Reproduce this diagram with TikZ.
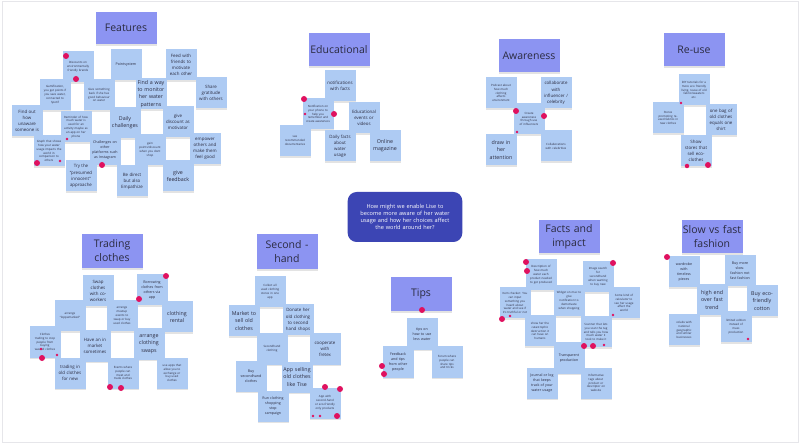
\documentclass[tikz,border=0pt]{standalone}
\usepackage{fontspec}
\setmainfont{Open Sans}
\usetikzlibrary{shadows}
\definecolor{notec}{HTML}{AECBF3}
\definecolor{titlec}{HTML}{8C94F2}
\definecolor{dotc}{HTML}{E0115F}
\definecolor{qc}{HTML}{3C45B4}
\definecolor{textc}{HTML}{2B2B40}
\definecolor{framec}{HTML}{E6E6EA}
\tikzset{
  stk/.style={fill=notec, minimum width=31pt, minimum height=31pt, inner sep=0.5pt,
    text width=29.5pt, align=center, text=textc,
    drop shadow={shadow xshift=0pt, shadow yshift=-1.4pt, opacity=0.22}},
  nb/.style={stk, font=\fontsize{5.3}{7.2}\selectfont},
  nm/.style={stk, font=\fontsize{4.4}{6.1}\selectfont},
  nms/.style={stk, font=\fontsize{3.6}{5.0}\selectfont},
  ns/.style={stk, font=\fontsize{2.9}{3.9}\selectfont},
  ttl/.style={fill=titlec, minimum width=61pt, minimum height=32pt, inner sep=1pt,
    text width=59pt, align=center, text=textc, font=\fontsize{10.5}{14}\selectfont,
    drop shadow={shadow xshift=0pt, shadow yshift=-1.6pt, opacity=0.22}},
  qbox/.style={fill=qc, rounded corners=9pt, minimum width=112pt, minimum height=50pt,
    text width=108pt, align=center, text=white, font=\fontsize{5.6}{7.2}\selectfont},
  rdot/.style={circle, fill=dotc, inner sep=0pt, minimum size=6pt},
  sdot/.style={circle, fill=dotc, inner sep=0pt, minimum size=2.8pt},
}
\begin{document}
\begin{tikzpicture}[x=1pt,y=-1pt]
\useasboundingbox (0,0) rectangle (800,443);
\fill[white] (0,0) rectangle (800,443);
\draw[framec, line width=0.8pt] (2.5,1) rectangle (798.5,442);

% ---------------- Features
\node[ttl] (f0) at (126,28) {Features};
\node[ns] (f1) at (78,67) {Discounts on\\ environmentally\\ friendly brands};
\node[nms] (f2) at (126,65) {Pointsystem};
\node[nm] (f3) at (181,65) {Feed with\\ friends to\\ motivate\\ each other};
\node[ns] (f4) at (55,95) {Gamification,\\ you get points if\\ you save water,\\ connected to\\ Spotif};
\node[ns] (f5) at (99,95) {Give something\\ back if she has\\ good behaviour\\ on water};
\node[nb] (f6) at (151,94) {Find a way\\ to monitor\\ her water\\ patterns};
\node[nm] (f7) at (211,93) {Share\\ gratitude\\ with others};
\node[nm] (f8) at (27,121) {Find out\\ how\\ unaware\\ someone is};
\node[ns] (f9) at (76,127) {Reminder of how\\ much water is\\ used for an\\ activity maybe as\\ an app on her\\ phone};
\node[nb] (f10) at (125,123) {Daily\\ challenges};
\node[nm] (f11) at (178,122) {give\\ discount as\\ motivator};
\node[ns] (f12) at (49,151) {Graph that shows\\ how your water\\ usage impacts the\\ world in\\ comparison to\\ others};
\node[nms] (f13) at (105,150) {Challenges on\\ other\\ platforms such\\ as Instagram};
\node[ns] (f14) at (150,150) {gain\\ points/discount\\ when you dont\\ shop};
\node[nm] (f15) at (205,149) {empower\\ others and\\ make them\\ feel good};
\node[nm] (f16) at (81,176) {Try the\\ “presumed\\ innocent”\\ approache};
\node[nm] (f17) at (132,181) {Be direct\\ but also\\ Empathize};
\node[nb] (f18) at (178,176) {give\\ feedback};

% ---------------- Educational
\node[ttl, minimum height=33pt] (e0) at (339,50) {Educational};
\node[nm] (e1) at (340,86) {notifications\\ with facts};
\node[ns] (e2) at (318,114) {Notification on\\ your phone to\\ help you\\ remember and\\ create awareness};
\node[nm] (e3) at (364,118) {Educational\\ events or\\ videos};
\node[ns] (e4) at (295,141) {see\\ recommended\\ documentaries};
\node[nm] (e5) at (340,146) {Daily facts\\ about\\ water\\ usage};
\node[nb] (e6) at (385,146) {Online\\ magazine};

% ---------------- Awareness
\node[ttl, minimum height=33pt] (a0) at (529,56) {Awareness};
\node[ns] (a1) at (501,93) {Podcast about\\ how much\\ clothing\\ affects\\ environment};
\node[nm] (a2) at (556,93) {collaborate\\ with\\ influencer /\\ celebrity};
\node[ns] (a3) at (529,119) {Create\\ awareness\\ through use\\ of influencers};
\node[nb] (a4) at (501,150) {draw in\\ her\\ attention};
\node[ns] (a5) at (556,146) {Collaborations\\ with celebrities};

% ---------------- Re-use
\node[ttl, minimum height=33pt] (r0) at (694,50) {Re-use};
\node[ns] (r1) at (694,90) {DIY tutorials for a\\ more eco friendly\\ living, reuse of old\\ fabric/sweaters\\ etc.};
\node[ns] (r2) at (668,118) {Stores\\ promoting re-\\ used fabrics in\\ new clothes};
\node[nm] (r3) at (721,120) {one bag of\\ old clothes\\ equals one\\ shirt};
\node[nm] (r4) at (696,151) {Show\\ stores that\\ sell eco-\\ clothes};

% ---------------- Question
\node[qbox] (q) at (405,217) {How might we enable Lise to\\ become more aware of her water\\ usage and how her choices affect\\ the world around her?};

% ---------------- Trading clothes
\node[ttl, minimum height=34pt] (t0) at (112,251) {Trading\\ clothes};
\node[nm] (t1) at (98,291) {Swap\\ clothes\\ with co-\\ workers};
\node[nms] (t2) at (152,290) {Borrowing\\ clothes from\\ others via\\ app};
\node[ns] (t3) at (70,316) {arrange\\ “loppemarked”};
\node[ns] (t4) at (122,316) {arrange\\ meetup\\ events to\\ swap or buy\\ used clothes};
\node[nb] (t5) at (177,317) {clothing\\ rental};
\node[ns] (t6) at (45,342) {Clothes\\ trading to stop\\ people from\\ buying\\ wasted clothes};
\node[nm] (t7) at (95,346) {Have an in\\ market\\ sometimes};
\node[nb] (t8) at (149,344) {arrange\\ clothing\\ swaps};
\node[nm] (t9) at (70,373) {trading in\\ old clothes\\ for new};
\node[ns] (t10) at (123,373) {Events where\\ people can\\ meet and\\ trade clothes};
\node[ns] (t11) at (172,373) {use apps that\\ allow you to\\ exchange or\\ buy used\\ clothes};

% ---------------- Second-hand
\node[ttl, minimum height=35pt] (s0) at (287,252) {Second -\\ hand};
\node[ns] (s1) at (270,292) {Collect all\\ used clothing\\ stores in one\\ app};
\node[nb] (s2) at (244,321) {Market to\\ sell old\\ clothes};
\node[nm] (s3) at (298,320) {Donate her\\ old clothing\\ to second\\ hand shops};
\node[ns] (s4) at (272,349) {Secondhand\\ clothing};
\node[nm] (s5) at (325,349) {cooperate\\ with\\ fretex};
\node[nms] (s6) at (251,376) {Buy\\ secondhand\\ clothes};
\node[nb] (s7) at (297,377) {App selling\\ old clothes\\ like Tise};
\node[nms] (s8) at (273,406) {Run clothing\\ shopping\\ stop\\ campaign};
\node[ns] (s9) at (325,403) {App with\\ second-hand\\ or eco-friendly\\ only products};

% ---------------- Tips
\node[ttl, minimum height=34pt] (p0) at (421,294) {Tips};
\node[nms] (p1) at (422,334) {tips on\\ how to use\\ less water};
\node[nms] (p2) at (398,362) {Feedback\\ and tips\\ from other\\ people};
\node[ns] (p3) at (447,362) {Forum where\\ people can\\ share tips\\ and tricks};

% ---------------- Facts and impact
\node[ttl, minimum height=33pt] (c0) at (569,237) {Facts and\\ impact};
\node[ns] (c1) at (541,275) {Description of\\ how much\\ water each\\ product needed\\ to get produced};
\node[ns] (c2) at (598,277) {Image search\\ for\\ secondhand\\ when wanting\\ to buy new};
\node[ns] (c3) at (515,303) {Item checker: You\\ can input\\ something you\\ heard about\\ water and see if\\ it's truthful or not};
\node[ns] (c4) at (569,301) {Widget on mac to\\ give\\ notification to\\ demotivate\\ when shopping};
\node[ns] (c5) at (624,303) {Some kind of\\ calculator to\\ see her usage\\ affect the\\ world};
\node[ns] (c6) at (540,331) {show her the\\ catastrophic\\ destruction it\\ can have on\\ humans};
\node[ns] (c7) at (596,332) {Scanner that lets\\ you scan the tag\\ and tells you how\\ much water it\\ took to make it};
\node[nms] (c8) at (569,358) {Transparent\\ production};
\node[nms] (c9) at (542,383) {Journal or log\\ that keeps\\ track of your\\ water usage};
\node[ns] (c10) at (596,383) {Informative\\ tags about\\ product or\\ descriptor on\\ website};

% ---------------- Slow vs fast fashion
\node[ttl, minimum height=33pt] (w0) at (712,237) {Slow vs fast\\ fashion};
\node[nms] (w1) at (684,272) {wardrobe\\ with\\ timeless\\ pieces};
\node[nms] (w2) at (740,271) {Buy more\\ slow-\\ fashion not\\ fast fashion};
\node[nb] (w3) at (712,300) {high end\\ over fast\\ trend};
\node[nb] (w4) at (762,301) {Buy eco-\\ friendly\\ cotton};
\node[ns] (w5) at (684,330) {colabs with\\ national\\ geographic\\ and similar\\ businesses};
\node[ns] (w6) at (736,327) {limited edition\\ instead of\\ mass\\ production};

% ---------------- vote dots
\foreach \x/\y [count=\i] in {66/56, 76/79, 37/163, 102/165, 304/99, 334/114, 516/111, 544/116,
  708/165, 166/276, 139/299, 42/358, 110/387, 121/388, 325/387, 340/389, 337/416,
  422/310, 382/366, 384/374, 526/262, 527/271, 613/263, 502/319, 584/346, 593/346, 667/257}
  \node[rdot] (bd\i) at (\x,\y) {};
\node[rdot, minimum size=4.5pt] (md1) at (687,166) {};
\foreach \x/\y [count=\i] in {67/139, 60/161, 305/114, 517/132, 681/103, 41/349, 57/355,
  313/416, 320/416, 510/316, 613/315, 604/345, 748/339}
  \node[sdot] (sd\i) at (\x,\y) {};
\end{tikzpicture}
\end{document}
